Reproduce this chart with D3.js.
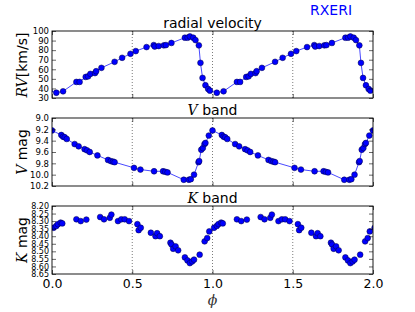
<!DOCTYPE html>
<html lang="en">
<head>
<meta charset="utf-8">
<title>RXERI</title>
<style>
  body { margin: 0; background: #fff; }
  svg { display: block; }
  text { font-family: "DejaVu Sans", sans-serif; }
  .math { font-family: "DejaVu Serif", serif; font-style: italic; }
</style>
<script src="https://d3js.org/d3.v7.min.js"></script>
</head>
<body>
<script>
// radial velocity, one cycle (plotted folded over 0..2)
var rvPhase = [0.027, 0.069, 0.152, 0.172, 0.210, 0.225, 0.239, 0.268, 0.275, 0.308, 0.390, 0.437, 0.489, 0.522,
               0.589, 0.634, 0.640, 0.665, 0.697, 0.710, 0.744, 0.828, 0.845, 0.859, 0.880, 0.894, 0.915, 0.925,
               0.938, 0.956, 0.973, 0.984];
var rvVel = [35.5, 37.0, 46.8, 46.8, 52.0, 52.6, 55.2, 56.0, 58.0, 61.5, 67.8, 72.0, 76.2, 79.0,
             83.2, 85.3, 83.8, 84.3, 85.0, 85.3, 87.5, 93.0, 93.0, 94.3, 93.0, 90.5, 85.0, 66.7,
             51.0, 43.3, 39.4, 37.7];

// V band
var vPhase = [0.000, 0.058, 0.069, 0.079, 0.092, 0.141, 0.166, 0.203, 0.218, 0.235, 0.283, 0.349, 0.366, 0.380,
              0.390, 0.511, 0.551, 0.636, 0.692, 0.706, 0.720, 0.821, 0.853, 0.865, 0.885, 0.913, 0.917, 0.930,
              0.940, 0.950, 0.956, 0.977];
var vMag = [9.22, 9.30, 9.33, 9.34, 9.37, 9.46, 9.50, 9.55, 9.57, 9.60, 9.66, 9.74, 9.76, 9.77,
            9.78, 9.88, 9.91, 9.94, 9.94, 9.95, 9.96, 10.09, 10.09, 10.08, 10.00, 9.78, 9.76, 9.56,
            9.53, 9.46, 9.44, 9.31];

// K band
var kPhase = [0.010, 0.027, 0.037, 0.054, 0.064, 0.152, 0.179, 0.214, 0.300, 0.324, 0.360, 0.370, 0.411, 0.432,
              0.453, 0.480, 0.532, 0.553, 0.540, 0.616, 0.645, 0.655, 0.672, 0.738, 0.745, 0.755, 0.770, 0.786,
              0.828, 0.844, 0.859, 0.873, 0.885, 0.920, 0.951, 0.967, 0.980];
var kMag = [8.344, 8.332, 8.320, 8.310, 8.315, 8.288, 8.300, 8.290, 8.273, 8.288, 8.278, 8.257, 8.300, 8.288,
            8.288, 8.300, 8.320, 8.344, 8.360, 8.377, 8.400, 8.380, 8.400, 8.443, 8.455, 8.483, 8.467, 8.493,
            8.540, 8.560, 8.578, 8.567, 8.555, 8.522, 8.434, 8.412, 8.368];

var xTicks = [0, 0.5, 1.0, 1.5, 2.0];
var rvTicks = [30, 40, 50, 60, 70, 80, 90, 100];
var vTicks = [9.0, 9.2, 9.4, 9.6, 9.8, 10.0, 10.2];
var kTicks = [8.20, 8.25, 8.30, 8.35, 8.40, 8.45, 8.50, 8.55, 8.60, 8.65];

var w = 415, h = 312;
var left = 52, right = 373;

var svg = d3.select("body").append("svg")
            .attr("width", w)
            .attr("height", h);

var x = d3.scaleLinear().domain([0, 2]).range([left, right]);

// fold one cycle onto 0..2 (with neighbours so the edges are filled)
function fold(ph, val) {
  var out = [];
  [-1, 0, 1, 2].forEach(function (k) {
    ph.forEach(function (p, i) { out.push({p: p + k, v: val[i]}); });
  });
  out.sort(function (a, b) { return a.p - b.p; });
  return out;
}

var panels = [
  {top: 31, bottom: 98, dom: [30, 100], ticks: rvTicks, fmt: d3.format("d"), fs: "8.5px", data: fold(rvPhase, rvVel), line: true, id: "rv"},
  {top: 118, bottom: 186, dom: [9.0, 10.2], ticks: vTicks, fmt: d3.format(".1f"), fs: "8.5px", data: fold(vPhase, vMag), line: true, id: "v"},
  {top: 206, bottom: 274, dom: [8.20, 8.65], ticks: kTicks, fmt: d3.format(".2f"), fs: "8px", data: fold(kPhase, kMag), line: false, id: "k"}
];

panels.forEach(function (pn, idx) {
  var y;
  if (pn.id === "rv") y = d3.scaleLinear().domain(pn.dom).range([pn.bottom, pn.top]);
  else y = d3.scaleLinear().domain(pn.dom).range([pn.top, pn.bottom]);   // magnitudes inverted

  var g = svg.append("g");

  svg.append("clipPath").attr("id", "clip" + pn.id)
     .append("rect")
     .attr("x", left).attr("y", pn.top)
     .attr("width", right - left).attr("height", pn.bottom - pn.top);

  // dotted grid
  g.selectAll(".grid").data([0.5, 1.0, 1.5]).enter()
   .append("line")
   .attr("x1", function (d) { return x(d); })
   .attr("x2", function (d) { return x(d); })
   .attr("y1", pn.top).attr("y2", pn.bottom)
   .attr("stroke", "#444").attr("stroke-width", 0.7)
   .attr("stroke-dasharray", "1,2");

  var plot = g.append("g").attr("clip-path", "url(#clip" + pn.id + ")");

  if (pn.line) {
    plot.append("path")
        .datum(pn.data)
        .attr("fill", "none")
        .attr("stroke", "#3636ff")
        .attr("stroke-width", 0.9)
        .attr("d", d3.line().x(function (d) { return x(d.p); }).y(function (d) { return y(d.v); }));
  }

  plot.selectAll("circle").data(pn.data).enter()
      .append("circle")
      .attr("cx", function (d) { return x(d.p); })
      .attr("cy", function (d) { return y(d.v); })
      .attr("r", 2.9)
      .attr("fill", "#0000ff")
      .attr("stroke", "#000040")
      .attr("stroke-width", 0.5);

  // axes with inward ticks
  var yl = g.append("g").attr("transform", "translate(" + left + ",0)")
            .call(d3.axisLeft(y).tickValues(pn.ticks).tickFormat(pn.fmt).tickSize(-4).tickSizeOuter(0).tickPadding(3));
  yl.selectAll("text").style("font-size", pn.fs).attr("fill", "#000");
  g.append("g").attr("transform", "translate(" + right + ",0)")
   .call(d3.axisRight(y).tickValues(pn.ticks).tickFormat("").tickSize(-4).tickSizeOuter(0));
  g.append("g").attr("transform", "translate(0," + pn.top + ")")
   .call(d3.axisTop(x).tickValues(xTicks).tickFormat("").tickSize(-4).tickSizeOuter(0));
  var xb = g.append("g").attr("transform", "translate(0," + pn.bottom + ")")
            .call(d3.axisBottom(x).tickValues(xTicks)
                    .tickFormat(idx === 2 ? d3.format(".1f") : "")
                    .tickSize(-4).tickSizeOuter(0).tickPadding(5));
  xb.selectAll("text").style("font-size", "12.5px").attr("fill", "#000");
  g.selectAll(".domain").remove();
  g.selectAll(".tick line").attr("stroke", "#000").attr("stroke-width", 0.6);

  g.append("rect")
   .attr("x", left).attr("y", pn.top)
   .attr("width", right - left).attr("height", pn.bottom - pn.top)
   .attr("fill", "none").attr("stroke", "#000").attr("stroke-width", 0.9);
});

// titles
var cx = (left + right) / 2;
svg.append("text").attr("x", cx).attr("y", 28).attr("text-anchor", "middle")
   .style("font-size", "14px").text("radial velocity");

var t2 = svg.append("text").attr("x", cx).attr("y", 115).attr("text-anchor", "middle").style("font-size", "14px");
t2.append("tspan").attr("class", "math").text("V");
t2.append("tspan").text(" band");

var t3 = svg.append("text").attr("x", cx).attr("y", 203).attr("text-anchor", "middle").style("font-size", "14px");
t3.append("tspan").attr("class", "math").text("K");
t3.append("tspan").text(" band");

svg.append("text").attr("x", 331).attr("y", 15).attr("text-anchor", "middle")
   .style("font-size", "14px").attr("fill", "#0000ff").text("RXERI");

// y labels
function ylabel(yc, m, rest) {
  var t = svg.append("text")
             .attr("transform", "translate(27," + yc + ") rotate(-90)")
             .attr("text-anchor", "middle")
             .style("font-size", "14px");
  t.append("tspan").attr("class", "math").text(m);
  t.append("tspan").text(rest);
}
ylabel(65, "RV", "[km/s]");
ylabel(152, "V", " mag");
ylabel(240, "K", " mag");

// x label
svg.append("text").attr("x", cx).attr("y", 305).attr("text-anchor", "middle")
   .attr("class", "math").style("font-size", "14px").attr("fill", "#333").text("ϕ");
</script>
</body>
</html>
